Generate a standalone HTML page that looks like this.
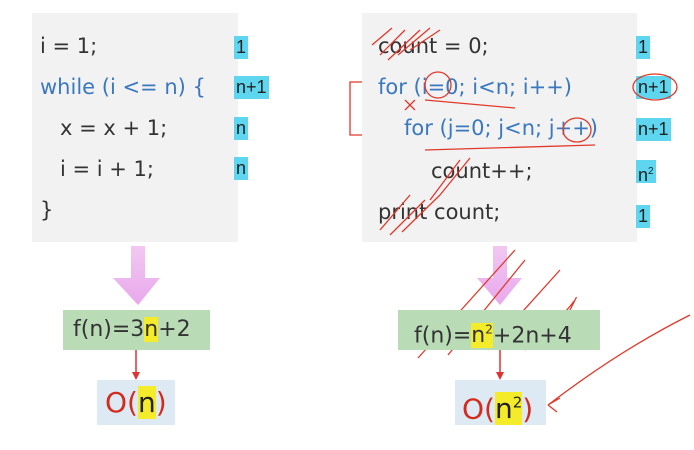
<!DOCTYPE html>
<html><head><meta charset="utf-8"><style>
html,body{margin:0;padding:0;background:#fff;}
body{width:694px;height:450px;position:relative;overflow:hidden;font-family:"DejaVu Sans","Liberation Sans",sans-serif;}
.abs{position:absolute;}
.box{background:#f2f2f2;}
.t{position:absolute;font-size:21px;color:#333;white-space:nowrap;line-height:24px;}
.b{color:#3a78c0;}
.badge{position:absolute;background:#5fd6ef;font-family:"Liberation Sans",sans-serif;font-size:18px;color:#222;line-height:23px;padding:0 2px;height:23px;}
.green{background:#b9dbb6;}
.blue{background:#dde9f3;}
.hl{background:#f4ec2a;}
</style></head><body>
<div class="abs box" style="left:32px;top:13px;width:206px;height:229px"></div>
<div class="abs box" style="left:362px;top:13px;width:275px;height:229px"></div>

<div class="t" style="left:40px;top:34px">i = 1;</div>
<div class="t b" style="left:40px;top:75px">while (i &lt;= n) {</div>
<div class="t" style="left:60px;top:116px">x = x + 1;</div>
<div class="t" style="left:60px;top:157px">i = i + 1;</div>
<div class="t" style="left:40px;top:198px">}</div>

<div class="badge" style="left:234px;top:36px">1</div>
<div class="badge" style="left:234px;top:76px">n+1</div>
<div class="badge" style="left:234px;top:117px">n</div>
<div class="badge" style="left:234px;top:157px">n</div>

<div class="t" style="left:378px;top:34px">count = 0;</div>
<div class="t b" style="left:378px;top:75px">for (i=0; i&lt;n; i++)</div>
<div class="t b" style="left:404px;top:116px">for (j=0; j&lt;n; j++)</div>
<div class="t" style="left:431px;top:159px">count++;</div>
<div class="t" style="left:378px;top:200px">print count;</div>

<div class="badge" style="left:636px;top:36px">1</div>
<div class="badge" style="left:636px;top:76px">n+1</div>
<div class="badge" style="left:636px;top:118px">n+1</div>
<div class="badge" style="left:636px;top:160px">n<sup style="font-size:10px">2</sup></div>
<div class="badge" style="left:636px;top:205px">1</div>

<svg class="abs" style="left:0;top:0" width="694" height="450">
 <defs><linearGradient id="pg" x1="0" y1="0" x2="0" y2="1"><stop offset="0" stop-color="#f1c8f1"/><stop offset="1" stop-color="#e8a8ec"/></linearGradient></defs>
 <polygon points="131,246 145,246 145,278 160,278 138,305 113,278 131,278" fill="url(#pg)"/>
 <polygon points="493,246 507,246 507,278 522,278 500,305 477,278 493,278" fill="url(#pg)"/>
 <line x1="136" y1="350" x2="136" y2="374" stroke="#d33" stroke-width="1.5"/>
 <polygon points="132,372 140,372 136,380" fill="#d33"/>
 <line x1="500" y1="350" x2="500" y2="374" stroke="#d33" stroke-width="1.5"/>
 <polygon points="496,372 504,372 500,380" fill="#d33"/>
 <g stroke="#e0392b" stroke-width="1.3" fill="none">
  <path d="M362,82 L350,82 L350,135 L362,135"/>
  <path d="M690,315 Q620,350 548,405 M548,405 L560,398 M548,405 L557,412"/>
  <path d="M418,358 L515,250 M448,355 L525,260 M488,350 L560,270"/>
  <path d="M525,350 Q560,320 575,300 Q580,290 565,320"/>
  <path d="M380,55 L405,30 M388,60 L420,30 M398,55 L430,28 M410,50 L440,30 M372,45 L392,28"/>
  <path d="M425,100 L515,108 M425,150 L595,145"/>
  <ellipse cx="438" cy="85" rx="13" ry="13"/>
  <ellipse cx="577" cy="130" rx="14" ry="12"/>
  <ellipse cx="655" cy="87" rx="22" ry="13"/>
  <path d="M430,200 L460,160 M440,195 L470,158 M380,230 L410,195 M390,235 L425,200 M402,232 L440,195"/>
  <path d="M405,100 L415,110 M415,100 L405,110"/>
 </g>
</svg>

<div class="abs green" style="left:63px;top:310px;width:147px;height:40px"></div>
<div class="t" style="left:73px;top:318px;font-size:22px">f(n)=3<span class="hl">n</span>+2</div>
<div class="abs blue" style="left:97px;top:380px;width:78px;height:45px"></div>
<div class="t" style="left:105px;top:388px;font-size:28px;line-height:30px;color:#d52b1e">O(<span class="hl" style="color:#222">n</span>)</div>

<div class="abs green" style="left:398px;top:310px;width:202px;height:40px"></div>
<div class="t" style="left:414px;top:318px;font-size:22px">f(n)=<span class="hl">n<sup style="font-size:12px">2</sup></span>+2n+4</div>
<div class="abs blue" style="left:455px;top:380px;width:91px;height:45px"></div>
<div class="t" style="left:462px;top:388px;font-size:28px;line-height:30px;color:#d52b1e">O(<span class="hl" style="color:#222">n<sup style="font-size:15px">2</sup></span>)</div>
</body></html>
